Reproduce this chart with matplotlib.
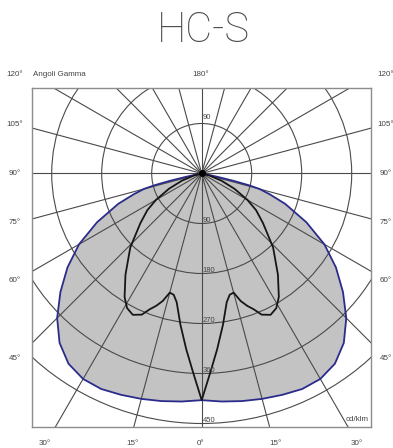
import numpy as np
import matplotlib
matplotlib.use("Agg")
import matplotlib.pyplot as plt
from matplotlib.patches import Circle

# curve luminosa (cd/klm) per angolo gamma, simmetriche rispetto allo 0°
blue_gamma = [0, 5, 10, 15, 20, 25, 30, 35, 40, 45, 50, 55, 60, 65, 70, 73, 75, 76, 77, 78, 80, 90]
blue_cd = [408, 412, 416, 420, 424, 428, 427, 418, 398, 368, 332, 295, 255, 208, 160, 128, 108, 88, 60, 30, 8, 0]

black_gamma = [0, 2.5, 5, 8, 11, 13, 15, 17, 19, 21, 23, 26, 29, 32, 37, 44, 51, 56, 60, 65, 70, 75, 80, 90]
black_cd = [408, 358, 318, 275, 236, 224, 222, 240, 252, 262, 276, 283, 277, 262, 228, 185, 142, 118, 95, 65, 38, 15, 3, 0]

ring_values = [90, 180, 270, 360, 450]
spoke_step = 15

left_labels = ['120°', '105°', '90°', '75°', '60°', '45°']
left_label_y = [74, 124, 173, 222, 280, 358]
bottom_labels = ['30°', '15°', '0°', '15°', '30°']
bottom_label_x = [45, 133, 201, 276, 357]

W, H = 393, 448
PX_PER_CD = 50 / 90.0
CX, CY = 201.7, 173.5
BOX = (32, 88, 371, 427)  # left, top, right, bottom in pixel

GRID = '#4a4a4a'
TXT = '#444444'


def fx(x):
    return x / W


def fy(y):
    return 1 - y / H


def polar_xy(gamma_deg, cd):
    g = np.radians(np.asarray(gamma_deg, dtype=float))
    r = np.asarray(cd, dtype=float)
    # curva completa: da -90° a +90° passando per lo 0° (verso il basso)
    g_full = np.concatenate([-g[::-1], g[1:]])
    r_full = np.concatenate([r[::-1], r[1:]])
    return r_full * np.sin(g_full), -r_full * np.cos(g_full)


fig = plt.figure(figsize=(W / 100, H / 100), dpi=100)
fig.patch.set_facecolor('white')

bl, bt, br, bb = BOX
ax = fig.add_axes([fx(bl), fy(bb), (br - bl) / W, (bb - bt) / H])
ax.set_xlim((bl - CX) / PX_PER_CD, (br - CX) / PX_PER_CD)
ax.set_ylim((CY - bb) / PX_PER_CD, (CY - bt) / PX_PER_CD)
ax.set_xticks([])
ax.set_yticks([])
for s in ax.spines.values():
    s.set_color('#8c8c8c')
    s.set_linewidth(1.0)

# area ombreggiata
bx, by = polar_xy(blue_gamma, blue_cd)
ax.fill(bx, by, color='#c3c3c3', lw=0, zorder=1)

# griglia polare
for v in ring_values:
    ax.add_patch(Circle((0, 0), v, fill=False, ec=GRID, lw=0.8, zorder=2))
for a in range(0, 360, spoke_step):
    t = np.radians(a)
    ax.plot([0, 2000 * np.sin(t)], [0, -2000 * np.cos(t)], color=GRID, lw=0.8, zorder=2)

ax.plot(bx, by, color='#2b2b8c', lw=1.3, zorder=4, solid_joinstyle='round')
kx, ky = polar_xy(black_gamma, black_cd)
ax.plot(kx, ky, color='#161616', lw=1.3, zorder=5, solid_joinstyle='round')
ax.plot(0, 0, 'o', color='black', ms=4, zorder=6)

# valori sui cerchi
for v in ring_values:
    ax.text(2, -v + 5, str(v), fontsize=5.5, color=TXT, ha='left', va='center',
            family='Liberation Sans', zorder=6)
ax.text(2, 90 + 10, '90', fontsize=5.5, color=TXT, ha='left', va='center',
        family='Liberation Sans', zorder=6)

# etichette angoli
fs = 5.8
for lab, y in zip(left_labels, left_label_y):
    fig.text(fx(15), fy(y), lab, fontsize=fs, color=TXT, ha='center', va='center',
             family='Liberation Sans')
    fig.text(fx(386), fy(y), lab, fontsize=fs, color=TXT, ha='center', va='center',
             family='Liberation Sans')
for lab, x in zip(bottom_labels, bottom_label_x):
    fig.text(fx(x), fy(443), lab, fontsize=fs, color=TXT, ha='center', va='center',
             family='Liberation Sans')
fig.text(fx(201), fy(74), '180°', fontsize=fs, color=TXT, ha='center', va='center',
         family='Liberation Sans')
fig.text(fx(33), fy(74), 'Angoli Gamma', fontsize=fs, color=TXT, ha='left', va='center',
         family='Liberation Sans')
fig.text(fx(369), fy(419), 'cd/klm', fontsize=fs, color=TXT, ha='right', va='center',
         family='Liberation Sans')

fig.text(fx(203), fy(31), 'HC-S', fontsize=30, color='#4a4a4a', ha='center', va='center',
         family='Roboto', fontweight='light')

fig.savefig('out.png', dpi=100, facecolor='white')
